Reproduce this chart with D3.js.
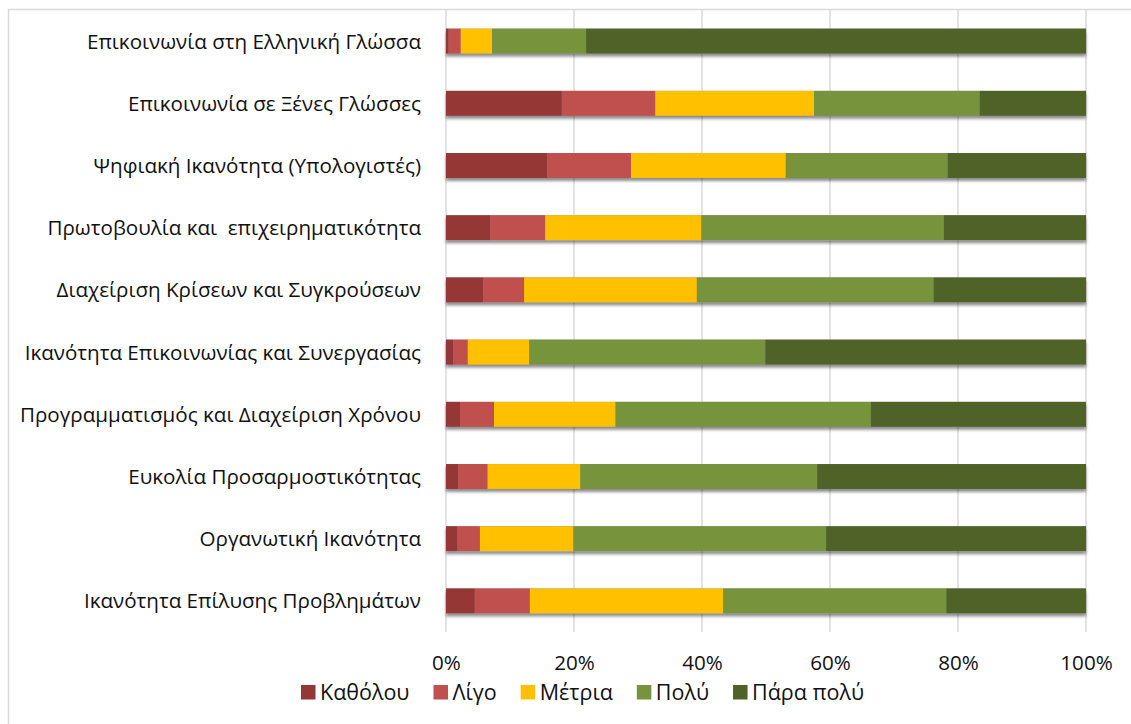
<!DOCTYPE html>
<html>
<head>
<meta charset="utf-8">
<script src="https://cdn.jsdelivr.net/npm/d3@7"></script>
<style>
  body { margin: 0; background: #fff; }
  text { font-family: "Open Sans", sans-serif; fill: #111; }
</style>
</head>
<body>
<div id="chart"></div>
<script>
const categories = [
  'Επικοινωνία στη Ελληνική Γλώσσα',
  'Επικοινωνία σε Ξένες Γλώσσες',
  'Ψηφιακή Ικανότητα (Υπολογιστές)',
  'Πρωτοβουλία και  επιχειρηματικότητα',
  'Διαχείριση Κρίσεων και Συγκρούσεων',
  'Ικανότητα Επικοινωνίας και Συνεργασίας',
  'Προγραμματισμός και Διαχείριση Χρόνου',
  'Ευκολία Προσαρμοστικότητας',
  'Οργανωτική Ικανότητα',
  'Ικανότητα Επίλυσης Προβλημάτων'
];
const seriesNames = ['Καθόλου', 'Λίγο', 'Μέτρια', 'Πολύ', 'Πάρα πολύ'];
const seriesColors = ['#953735', '#C0504D', '#FFC000', '#77933C', '#4F6228'];

// percentages per category, one array per answer
const katholou = [0.4, 18.1, 15.8, 6.9, 5.8, 1.1, 2.2, 1.9, 1.8, 4.5];
const ligo     = [1.9, 14.6, 13.1, 8.6, 6.4, 2.3, 5.3, 4.6, 3.5, 8.6];
const metria   = [4.9, 24.8, 24.2, 24.4, 27.0, 9.6, 19.0, 14.5, 14.6, 30.2];
const poly     = [14.7, 25.9, 25.3, 37.9, 37.0, 36.9, 39.9, 37.0, 39.5, 34.9];
const paraPoly = [78.1, 16.6, 21.6, 22.2, 23.8, 50.1, 33.6, 42.0, 40.6, 21.8];
const xTicks = [0, 20, 40, 60, 80, 100];

const width = 1131;
const height = 724;
const margin = { left: 446, right: 45, top: 10, bottom: 92 };

const svg = d3.select('#chart')
  .append('svg')
  .attr('width', width)
  .attr('height', height);

// drop shadow like the office chart
const defs = svg.append('defs');
const f = defs.append('filter').attr('id', 'shadow')
  .attr('x', '-5%').attr('y', '-40%').attr('width', '110%').attr('height', '200%');
f.append('feDropShadow')
  .attr('dx', 0).attr('dy', 3).attr('stdDeviation', 1.6)
  .attr('flood-color', '#000').attr('flood-opacity', 0.45);

// chart border
svg.append('rect')
  .attr('x', 8.5).attr('y', 9.5)
  .attr('width', 1200).attr('height', 800)
  .attr('fill', 'none')
  .attr('stroke', '#D9D9D9')
  .attr('stroke-width', 1.5);

const x = d3.scaleLinear()
  .domain([0, 100])
  .range([margin.left, width - margin.right]);

const y = d3.scaleBand()
  .domain(categories)
  .range([margin.top, height - margin.bottom])
  .paddingInner(0.6)
  .paddingOuter(0.3);

// gridlines
svg.append('g')
  .selectAll('line')
  .data(xTicks)
  .enter()
  .append('line')
  .attr('x1', d => x(d))
  .attr('x2', d => x(d))
  .attr('y1', margin.top)
  .attr('y2', height - margin.bottom)
  .attr('stroke', '#D9D9D9')
  .attr('stroke-width', 1.5);

// stacked data
const rows = categories.map((c, i) => ({
  cat: c,
  'Καθόλου': katholou[i],
  'Λίγο': ligo[i],
  'Μέτρια': metria[i],
  'Πολύ': poly[i],
  'Πάρα πολύ': paraPoly[i]
}));
const stacked = d3.stack().keys(seriesNames)(rows);

// shadow layer drawn first as full bars
svg.append('g')
  .attr('filter', 'url(#shadow)')
  .selectAll('rect')
  .data(rows)
  .enter()
  .append('rect')
  .attr('x', x(0))
  .attr('y', d => y(d.cat))
  .attr('width', x(100) - x(0))
  .attr('height', y.bandwidth())
  .attr('fill', '#888');

svg.append('g')
  .selectAll('g')
  .data(stacked)
  .enter()
  .append('g')
  .attr('fill', (d, i) => seriesColors[i])
  .selectAll('rect')
  .data(d => d)
  .enter()
  .append('rect')
  .attr('x', d => x(d[0]))
  .attr('y', d => y(d.data.cat))
  .attr('width', d => x(d[1]) - x(d[0]))
  .attr('height', y.bandwidth());

// category labels
svg.append('g')
  .selectAll('text')
  .data(categories)
  .enter()
  .append('text')
  .attr('x', margin.left - 25)
  .attr('y', d => y(d) + y.bandwidth() / 2)
  .attr('dy', '0.36em')
  .attr('text-anchor', 'end')
  .attr('font-size', '20.6px')
  .style('white-space', 'pre')
  .text(d => d);

// x axis
const xAxis = svg.append('g')
  .attr('transform', `translate(0,${height - margin.bottom})`)
  .call(d3.axisBottom(x).tickValues(xTicks).tickFormat(d => d + '%').tickSize(0));
xAxis.select('.domain').remove();
xAxis.selectAll('text')
  .attr('y', 38)
  .attr('dy', 0)
  .attr('font-size', '20.6px')
  .attr('font-family', '"Open Sans", sans-serif')
  .attr('fill', '#111');

// legend
const legend = svg.append('g').attr('transform', 'translate(301,685)');
let lx = 0;
seriesNames.forEach((name, i) => {
  const g = legend.append('g').attr('transform', `translate(${lx},0)`);
  g.append('rect')
    .attr('width', 14.5)
    .attr('height', 14.5)
    .attr('fill', seriesColors[i]);
  const t = g.append('text')
    .attr('x', 19)
    .attr('y', 14.5)
    .attr('font-size', '21.5px')
    .text(name);
  lx += 19 + t.node().getComputedTextLength() + 24;
});
</script>
</body>
</html>
